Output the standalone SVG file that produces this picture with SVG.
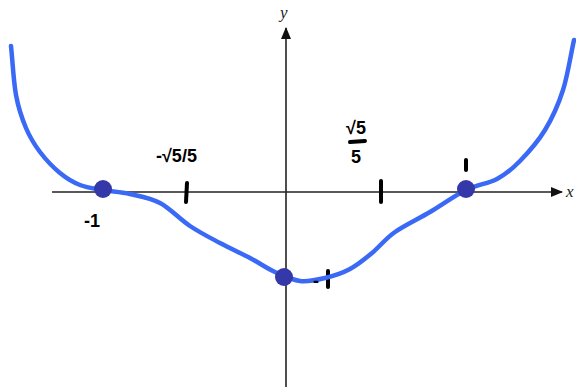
<svg xmlns="http://www.w3.org/2000/svg" width="576" height="387" viewBox="0 0 576 387">
<style>
.axis{stroke:#222;stroke-width:1.6;fill:none}
.tick{stroke:#000;stroke-width:4;stroke-linecap:round;fill:none}
.curve{stroke:#3a6af5;stroke-width:4.5;fill:none;stroke-linecap:round;stroke-linejoin:round}
.dot{fill:#3538a8}
.ax{font-family:"Liberation Serif",serif;font-style:italic;font-size:17px;fill:#222}
.hw{font-family:"Liberation Sans",sans-serif;font-weight:bold;font-size:18px;fill:#000}
</style>
<defs>
<marker id="ah" markerWidth="12" markerHeight="10" refX="11" refY="5" orient="auto" markerUnits="userSpaceOnUse">
<path d="M0,0 L12,5 L0,10 Z" fill="#111"/>
</marker>
</defs>
<g id="connectors">
<line id="x-axis" class="axis" x1="52" y1="192" x2="562" y2="192" marker-end="url(#ah)"/>
<line id="y-axis" class="axis" x1="286" y1="387" x2="286" y2="28" marker-end="url(#ah)"/>
</g>
<g id="axis-labels">
<text class="ax" x="280" y="18">y</text>
<text class="ax" x="566" y="197">x</text>
</g>
<g id="ticks">
<line class="tick" x1="187" y1="183" x2="186" y2="202"/>
<line class="tick" x1="381" y1="181" x2="381" y2="202"/>
<line class="tick" x1="328" y1="271" x2="328" y2="287"/>
<line class="tick" x1="466" y1="160" x2="466" y2="170"/>
</g>
<g id="curve">
<path class="curve" d="M11,46 C12.7,62.3 13.5,81.3 16,95 C18.5,108.7 22,118.5 26,128 C30,137.5 34.3,144.5 40,152 C45.7,159.5 53.3,167.5 60,173 C66.7,178.5 72.8,182.2 80,185 C87.2,187.8 94.7,188.5 103,190 C111.3,191.5 120.5,191.8 130,194 C139.5,196.2 150,197.7 160,203 C170,208.3 180,219.3 190,226 C200,232.7 210,237.7 220,243 C230,248.3 240.8,253.2 250,258 C259.2,262.8 266.7,268.2 275,272 C283.3,275.8 291.7,280 300,281 C308.3,282 316.7,280 325,278 C333.3,276 342.2,273.2 350,269 C357.8,264.8 364.5,259.2 372,253 C379.5,246.8 385.3,238.8 395,232 C404.7,225.2 418.2,219 430,212 C441.8,205 454.8,195.5 466,190 C477.2,184.5 488,183.8 497,179 C506,174.2 512,169.2 520,161 C528,152.8 537.8,141.8 545,130 C552.2,118.2 558.2,105 563,90 C567.8,75 570.3,56.7 574,40"/>
</g>
<g id="points">
<circle class="dot" cx="103" cy="189" r="9"/>
<circle class="dot" cx="466" cy="189" r="9"/>
<circle class="dot" cx="284" cy="277" r="9"/>
</g>
<g id="labels">
<text class="hw" x="84" y="227">-1</text>
<text class="hw" x="156" y="162">-√5/5</text>
<text class="hw" x="346" y="134">√5</text>
<line class="tick" x1="350" y1="142" x2="365" y2="141" stroke-width="3"/>
<text class="hw" x="351" y="163">5</text>
<text class="hw" x="313" y="287">-</text>
</g>
</svg>
